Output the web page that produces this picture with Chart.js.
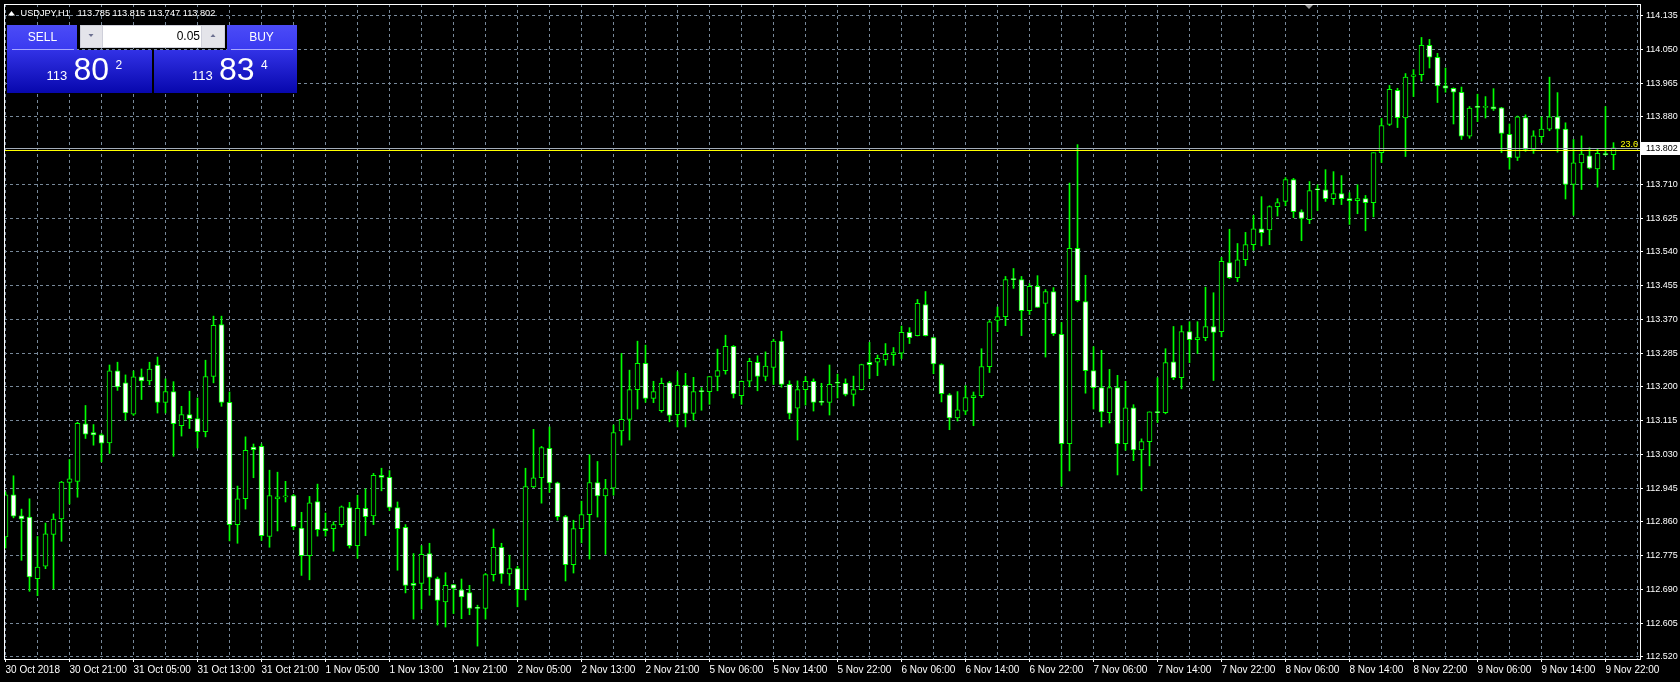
<!DOCTYPE html>
<html>
<head>
<meta charset="utf-8">
<script src="https://cdn.jsdelivr.net/npm/chart.js@4.4.1/dist/chart.umd.min.js"></script>
<style>
html,body{margin:0;padding:0;background:#000;overflow:hidden}
#wrap{position:relative;width:1680px;height:682px}
canvas{display:block}
</style>
</head>
<body>
<div id="wrap"><canvas id="chart" width="1680" height="682"></canvas></div>
<script>
// ---------- data ----------
const symbolTitle = 'USDJPY,H1';
const titlePrices = '113.785 113.815 113.747 113.802';

const timeLabels = ['30 Oct 2018','30 Oct 21:00','31 Oct 05:00','31 Oct 13:00','31 Oct 21:00',
  '1 Nov 05:00','1 Nov 13:00','1 Nov 21:00','2 Nov 05:00','2 Nov 13:00','2 Nov 21:00',
  '5 Nov 06:00','5 Nov 14:00','5 Nov 22:00','6 Nov 06:00','6 Nov 14:00','6 Nov 22:00',
  '7 Nov 06:00','7 Nov 14:00','7 Nov 22:00','8 Nov 06:00','8 Nov 14:00','8 Nov 22:00',
  '9 Nov 06:00','9 Nov 14:00','9 Nov 22:00'];

const priceTicks = [112.520,112.605,112.690,112.775,112.860,112.945,113.030,113.115,113.200,113.285,
  113.370,113.455,113.540,113.625,113.710,113.795,113.880,113.965,114.050,114.135];

const opens = [
112.822,112.928,112.875,112.872,112.717,112.748,112.828,112.867,112.959,112.962,
113.107,113.085,113.079,113.059,113.240,113.210,113.131,113.225,113.215,113.255,
113.161,113.188,113.102,113.130,113.120,113.087,113.226,113.357,113.161,112.853,
112.918,113.048,113.050,112.823,112.918,112.923,112.926,112.844,112.775,112.911,
112.843,112.843,112.853,112.896,112.800,112.894,112.875,112.977,112.972,112.896,
112.846,112.705,112.705,112.780,112.717,112.658,112.702,112.689,112.682,112.642,
112.642,112.727,112.796,112.729,112.742,112.689,112.948,112.971,113.045,112.958,
112.873,112.752,112.843,112.878,112.959,112.925,112.945,113.089,113.118,113.193,
113.259,113.171,113.140,113.211,113.130,113.204,113.133,113.188,113.188,113.226,
113.241,113.302,113.178,113.214,113.262,113.226,113.249,113.315,113.206,113.146,
113.193,113.214,113.161,113.161,113.209,113.209,113.181,113.193,113.262,113.262,
113.268,113.281,113.285,113.337,113.329,113.407,113.324,113.256,113.180,113.122,
113.139,113.173,113.178,113.251,113.367,113.377,113.470,113.470,113.392,113.453,
113.410,113.440,113.332,113.057,113.549,113.415,113.241,113.198,113.135,113.198,
113.057,113.147,113.041,113.062,113.135,113.135,113.263,113.223,113.339,113.319,
113.324,113.352,113.339,113.513,113.475,113.520,113.558,113.598,113.595,113.654,
113.667,113.722,113.641,113.621,113.696,113.696,113.674,113.687,113.674,113.669,
113.674,113.664,113.790,113.861,113.947,113.877,113.982,113.986,114.060,114.030,
113.958,113.952,113.942,113.831,113.904,113.904,113.905,113.903,113.836,113.778,
113.878,113.798,113.830,113.849,113.880,113.849,113.710,113.764,113.782,113.749,
113.786,113.785];

const highs = [
112.935,112.976,112.892,112.918,112.823,112.857,112.880,112.962,113.017,113.111,
113.153,113.105,113.082,113.255,113.262,113.230,113.240,113.245,113.262,113.275,
113.220,113.213,113.151,113.189,113.172,113.267,113.378,113.378,113.187,112.950,
113.074,113.056,113.056,112.990,112.985,112.962,112.929,112.884,112.924,112.955,
112.882,112.860,112.900,112.909,112.927,112.943,112.982,112.995,112.989,112.910,
112.853,112.780,112.800,112.806,112.721,112.732,112.702,112.716,112.700,112.650,
112.730,112.842,112.806,112.776,112.748,112.995,113.093,113.050,113.099,112.960,
112.876,112.864,112.912,113.029,113.012,112.967,113.104,113.284,113.242,113.315,
113.305,113.214,113.222,113.214,113.238,113.234,113.224,113.198,113.226,113.295,
113.330,113.304,113.215,113.272,113.278,113.288,113.320,113.340,113.215,113.215,
113.226,113.220,113.209,113.255,113.232,113.220,113.227,113.257,113.312,113.280,
113.309,113.299,113.353,113.349,113.420,113.440,113.325,113.258,113.183,113.188,
113.203,113.187,113.296,113.367,113.401,113.478,113.498,113.478,113.460,113.480,
113.445,113.450,113.362,113.713,113.810,113.481,113.301,113.292,113.244,113.229,
113.214,113.155,113.069,113.137,113.223,113.296,113.352,113.354,113.364,113.364,
113.451,113.437,113.526,113.597,113.561,113.589,113.632,113.679,113.656,113.674,
113.727,113.725,113.646,113.717,113.709,113.747,113.742,113.732,113.689,113.709,
113.682,113.790,113.876,113.959,113.952,113.989,113.999,114.080,114.075,114.040,
114.003,113.953,113.955,113.906,113.937,113.931,113.951,113.904,113.862,113.882,
113.885,113.845,113.880,113.980,113.941,113.865,113.823,113.832,113.802,113.799,
113.906,113.815];

const lows = [
112.794,112.870,112.763,112.685,112.674,112.742,112.691,112.811,112.905,112.922,
113.070,113.053,113.011,113.032,113.191,113.116,113.128,113.168,113.205,113.134,
113.134,113.025,113.076,113.095,113.046,113.074,113.210,113.151,112.812,112.806,
112.892,112.971,112.813,112.796,112.837,112.910,112.840,112.725,112.714,112.824,
112.824,112.786,112.847,112.794,112.768,112.825,112.853,112.938,112.888,112.738,
112.681,112.615,112.640,112.675,112.600,112.595,112.629,112.616,112.626,112.547,
112.615,112.711,112.705,112.700,112.646,112.663,112.946,112.907,112.934,112.864,
112.711,112.731,112.807,112.766,112.872,112.778,112.927,113.053,113.066,113.144,
113.161,113.160,113.136,113.112,113.099,113.099,113.116,113.141,113.156,113.190,
113.232,113.172,113.156,113.200,113.190,113.215,113.206,113.199,113.119,113.066,
113.154,113.139,113.154,113.129,113.172,113.177,113.152,113.192,113.221,113.228,
113.254,113.254,113.271,113.309,113.328,113.328,113.233,113.162,113.092,113.114,
113.130,113.102,113.173,113.236,113.339,113.354,113.448,113.329,113.382,113.400,
113.275,113.329,112.950,112.988,113.414,113.184,113.144,113.099,113.109,112.978,
113.040,113.014,112.938,113.001,113.110,113.132,113.218,113.195,113.261,113.284,
113.316,113.216,113.326,113.473,113.465,113.505,113.544,113.555,113.558,113.630,
113.656,113.626,113.568,113.611,113.644,113.667,113.659,113.659,113.609,113.636,
113.593,113.628,113.765,113.858,113.853,113.780,113.931,113.970,114.003,113.916,
113.942,113.862,113.823,113.826,113.868,113.877,113.896,113.790,113.748,113.770,
113.793,113.788,113.815,113.845,113.791,113.673,113.632,113.697,113.749,113.703,
113.783,113.747];

const closes = [
112.928,112.874,112.867,112.721,112.746,112.830,112.867,112.960,112.968,113.108,
113.081,113.079,113.058,113.240,113.200,113.134,113.225,113.215,113.245,113.161,
113.188,113.107,113.130,113.120,113.087,113.226,113.355,113.161,112.853,112.918,
113.040,113.042,112.825,112.926,112.923,112.924,112.848,112.775,112.908,112.840,
112.838,112.853,112.898,112.800,112.894,112.873,112.977,112.972,112.896,112.843,
112.700,112.700,112.778,112.720,112.662,112.700,112.692,112.671,112.642,112.642,
112.727,112.796,112.729,112.742,112.689,112.949,112.971,113.047,112.958,112.873,
112.752,112.843,112.878,112.959,112.925,112.944,113.085,113.118,113.193,113.259,
113.171,113.188,113.209,113.128,113.204,113.133,113.188,113.188,113.226,113.241,
113.302,113.182,113.214,113.264,113.226,113.252,113.315,113.206,113.133,113.193,
113.214,113.161,113.161,113.206,113.209,113.181,113.193,113.256,113.256,113.272,
113.282,113.286,113.337,113.324,113.410,113.329,113.258,113.183,113.122,113.142,
113.173,113.178,113.251,113.364,113.377,113.470,113.470,113.392,113.453,113.400,
113.440,113.334,113.057,113.549,113.417,113.241,113.198,113.137,113.198,113.057,
113.147,113.041,113.062,113.137,113.135,113.261,113.223,113.339,113.319,113.324,
113.352,113.337,113.516,113.475,113.520,113.558,113.598,113.588,113.654,113.664,
113.722,113.641,113.624,113.694,113.696,113.674,113.687,113.674,113.669,113.674,
113.664,113.790,113.858,113.949,113.878,113.980,113.986,114.060,114.030,113.958,
113.952,113.942,113.831,113.902,113.904,113.905,113.900,113.838,113.777,113.880,
113.798,113.832,113.849,113.880,113.849,113.710,113.764,113.786,113.751,113.788,
113.785,113.802];

const bidPrice = 113.802;
const fiboPrice = 113.796;
const fiboLabel = '23.6';
const hiddenTick = 113.795;
const lotSize = '0.05';
const sellQuote = ['113', '80', '2'];
const buyQuote = ['113', '83', '4'];

// ---------- style ----------
const FONT = '"Liberation Sans", Arial, sans-serif';
const LIME = '#00ff00';
const GRID = '#778899';
const CANDLES_PER_GRID = 4;
const CANDLES_PER_LABEL = 8;

const idx = opens.map((_, k) => k);
const wickData = idx.map(k => ({ x: k, y: [lows[k], highs[k]] }));
const bodyData = idx.map(k => ({ x: k, y: [opens[k], closes[k]] }));
const xTickValues = [];
for (let k = 0; k <= 204; k += CANDLES_PER_GRID) xTickValues.push(k);

function drawTradePanel(ctx) {
  ctx.save();
  const gTop = ctx.createLinearGradient(0, 25, 0, 50);
  gTop.addColorStop(0, '#4b4bf7'); gTop.addColorStop(1, '#3a3af0');
  const gBot = ctx.createLinearGradient(0, 50, 0, 93);
  gBot.addColorStop(0, '#3232e6'); gBot.addColorStop(1, '#0707ad');
  ctx.fillStyle = gTop;
  ctx.fillRect(7, 25, 70, 25);
  ctx.fillRect(227, 25, 70, 25);
  ctx.fillStyle = gBot;
  ctx.fillRect(7, 50, 145, 43);
  ctx.fillRect(154, 50, 143, 43);
  ctx.fillStyle = '#a8a8ff';
  ctx.fillRect(12, 49, 62, 1);
  ctx.fillRect(231, 49, 62, 1);
  // lot box
  ctx.fillStyle = '#cfd0da';
  ctx.fillRect(80, 25, 145, 23);
  ctx.fillStyle = '#ffffff';
  ctx.fillRect(103, 26, 98, 21);
  ctx.fillStyle = '#e4e4ea';
  ctx.fillRect(81, 26, 21, 21);
  ctx.fillRect(202, 26, 22, 21);
  ctx.fillStyle = '#6c7090';
  ctx.beginPath(); ctx.moveTo(88.5, 34); ctx.lineTo(93.5, 34); ctx.lineTo(91, 37); ctx.closePath(); ctx.fill();
  ctx.beginPath(); ctx.moveTo(210.5, 37); ctx.lineTo(215.5, 37); ctx.lineTo(213, 34); ctx.closePath(); ctx.fill();
  ctx.fillStyle = '#000';
  ctx.font = '12px ' + FONT;
  ctx.textAlign = 'right'; ctx.textBaseline = 'alphabetic';
  ctx.fillText(lotSize, 200, 40);
  // button labels
  ctx.fillStyle = '#fff';
  ctx.textAlign = 'center';
  ctx.font = '12px ' + FONT;
  ctx.fillText('SELL', 42.5, 41);
  ctx.fillText('BUY', 261.5, 41);
  // quotes
  ctx.textAlign = 'left';
  const drawQuote = (q, x0) => {
    ctx.font = '13px ' + FONT; ctx.fillText(q[0], x0, 80);
    ctx.font = '32px ' + FONT; ctx.fillText(q[1], x0 + 27, 80);
    ctx.font = '12px ' + FONT; ctx.fillText(q[2], x0 + 69, 69);
  };
  drawQuote(sellQuote, 46.5);
  drawQuote(buyQuote, 192);
  ctx.restore();
}

const mt4Plugin = {
  id: 'mt4',
  beforeDraw(chart) {
    const c = chart.ctx;
    c.save(); c.fillStyle = '#000'; c.fillRect(0, 0, chart.width, chart.height); c.restore();
  },
  afterDatasetsDraw(chart) {
    const c = chart.ctx, a = chart.chartArea, y = chart.scales.y;
    c.save();
    const yb = Math.round(y.getPixelForValue(bidPrice)) + 0.5;
    c.strokeStyle = '#a3adb9'; c.lineWidth = 1;
    c.beginPath(); c.moveTo(a.left, yb); c.lineTo(a.right, yb); c.stroke();
    const yf = Math.round(y.getPixelForValue(fiboPrice)) + 0.5;
    c.strokeStyle = '#ffff00';
    c.beginPath(); c.moveTo(a.left, yf); c.lineTo(a.right, yf); c.stroke();
    c.fillStyle = '#ffff00'; c.font = '9px ' + FONT; c.textAlign = 'right'; c.textBaseline = 'alphabetic';
    c.fillText(fiboLabel, a.right - 2, yf - 4);
    c.restore();
  },
  afterDraw(chart) {
    const c = chart.ctx, a = chart.chartArea, y = chart.scales.y;
    c.save();
    // frame
    c.strokeStyle = '#ffffff'; c.lineWidth = 1;
    c.strokeRect(a.left + 0.5, a.top + 0.5, a.right - a.left, a.bottom - a.top);
    // bid price box on axis
    const yb = y.getPixelForValue(bidPrice);
    c.fillStyle = '#ffffff';
    c.fillRect(a.right + 1, Math.round(yb) - 6, chart.width - a.right - 1, 13);
    c.fillStyle = '#000000'; c.font = '9px ' + FONT; c.textAlign = 'left'; c.textBaseline = 'middle';
    c.fillText(bidPrice.toFixed(3), a.right + 6, Math.round(yb) + 0.5);
    // chart shift marker
    c.fillStyle = '#9a9a9a';
    c.beginPath(); c.moveTo(1305, 5); c.lineTo(1313, 5); c.lineTo(1309, 9); c.closePath(); c.fill();
    // title
    c.fillStyle = '#ffffff';
    c.beginPath(); c.moveTo(8, 15.5); c.lineTo(15, 15.5); c.lineTo(11.5, 11); c.closePath(); c.fill();
    c.font = '9.2px ' + FONT; c.textBaseline = 'alphabetic'; c.textAlign = 'left';
    c.fillText(symbolTitle, 20.5, 16);
    c.fillText(titlePrices, 77.5, 16);
    c.restore();
    drawTradePanel(c);
  }
};

new Chart(document.getElementById('chart'), {
  type: 'bar',
  data: {
    datasets: [
      {
        label: 'wick', data: wickData, backgroundColor: LIME, borderWidth: 0,
        barThickness: 1, grouped: false, order: 2
      },
      {
        label: 'body', data: bodyData,
        backgroundColor: c => (closes[c.dataIndex] > opens[c.dataIndex] ? '#000000' : '#ffffff'),
        borderColor: LIME, borderWidth: 1, borderSkipped: false,
        barThickness: 5, grouped: false, minBarLength: 1, order: 1
      }
    ]
  },
  options: {
    responsive: false, animation: false, devicePixelRatio: 1,
    layout: { padding: { left: 4, top: 4, right: 0, bottom: 0 } },
    plugins: { legend: { display: false }, tooltip: { enabled: false } },
    scales: {
      x: {
        type: 'linear', position: 'bottom', min: -0.1875, max: 204.3125, offset: false,
        afterBuildTicks: s => { s.ticks = xTickValues.map(v => ({ value: v })); },
        afterFit: s => { s.height = 23; s.paddingLeft = 0; s.paddingRight = 0; s.paddingTop = 0; s.paddingBottom = 0; },
        grid: {
          offset: false, color: GRID, lineWidth: 1, drawTicks: true, tickLength: 3,
          tickColor: c => (c.tick && c.tick.value % CANDLES_PER_LABEL === 0) ? '#ffffff' : 'rgba(0,0,0,0)'
        },
        border: { display: false, dash: [3, 3] },
        ticks: {
          color: '#ffffff', font: { family: FONT, size: 10 }, padding: 2.5, align: 'start',
          maxRotation: 0, minRotation: 0, autoSkip: false,
          callback: v => (v % CANDLES_PER_LABEL === 0 ? timeLabels[v / CANDLES_PER_LABEL] : '')
        }
      },
      y: {
        type: 'linear', position: 'right', min: 112.5145, max: 114.1642, offset: false,
        afterBuildTicks: s => { s.ticks = priceTicks.map(v => ({ value: v })); },
        afterFit: s => { s.width = 40; s.paddingLeft = 0; s.paddingRight = 0; s.paddingTop = 0; s.paddingBottom = 0; },
        grid: { offset: false, color: GRID, lineWidth: 1, drawTicks: true, tickLength: 3, tickColor: '#ffffff' },
        border: { display: false, dash: [3, 3] },
        ticks: {
          color: '#ffffff', font: { family: FONT, size: 9 }, padding: 3, autoSkip: false,
          callback: v => (Math.abs(v - hiddenTick) < 1e-6 ? '' : v.toFixed(3))
        }
      }
    }
  },
  plugins: [mt4Plugin]
});
</script>
</body>
</html>
